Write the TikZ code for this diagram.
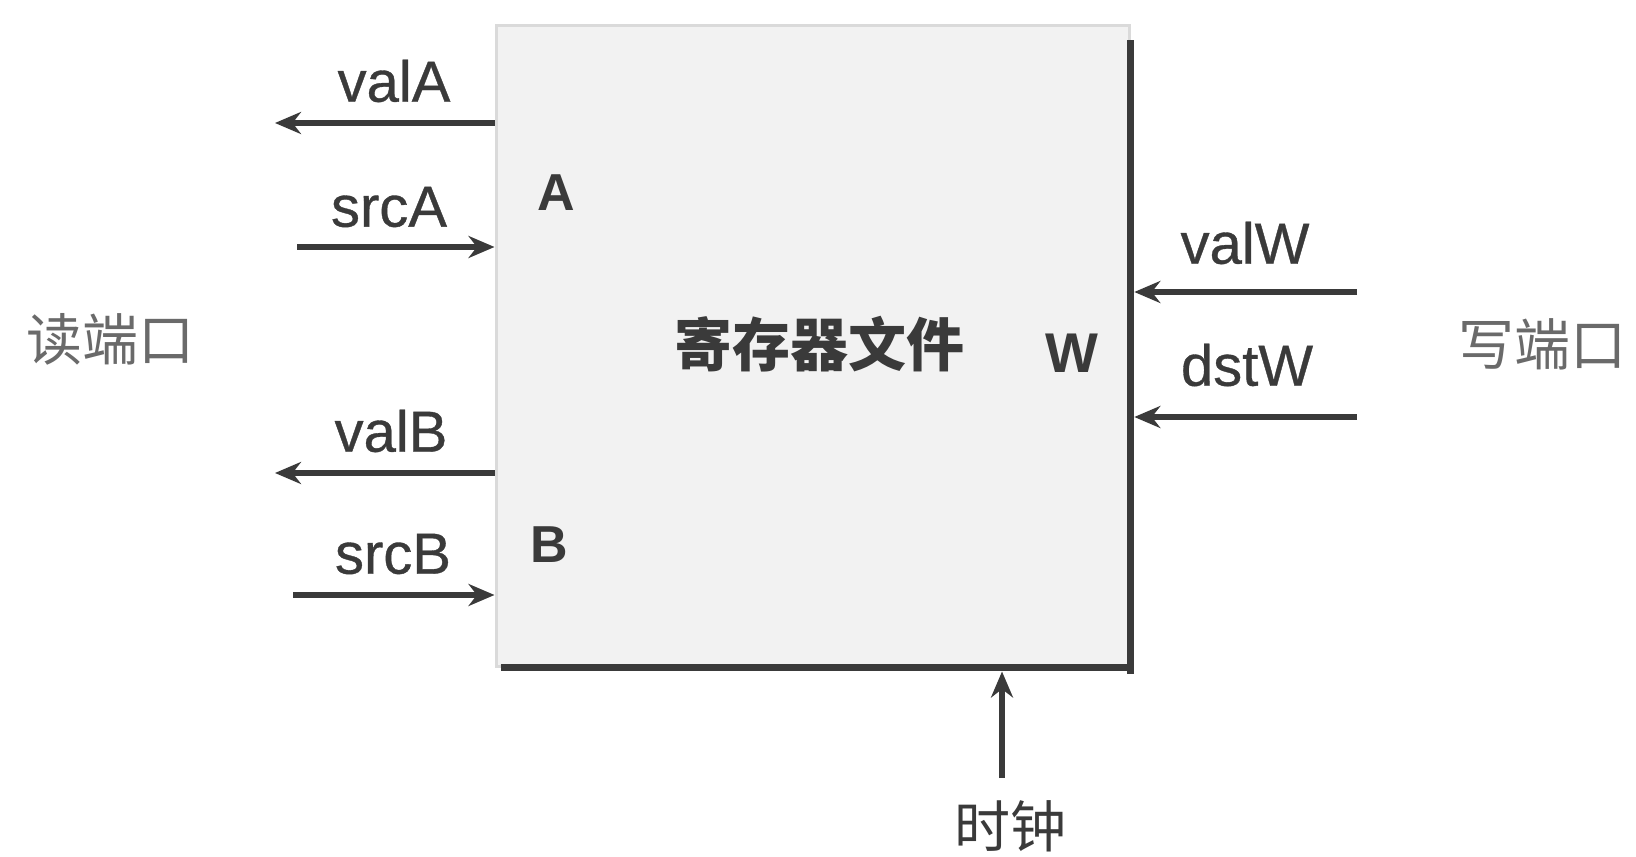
\documentclass[tikz,border=0pt]{standalone}
\usepackage{fontspec}
\setmainfont{Liberation Sans}
\newfontfamily\sigfont[FakeBold=0.6]{Liberation Sans}
\newfontfamily\cjk{Noto Sans CJK SC}
\usetikzlibrary{arrows.meta}
\definecolor{ink}{HTML}{3A3A3A}
\definecolor{boxfill}{HTML}{F2F2F2}
\definecolor{boxedge}{HTML}{DADADA}
\definecolor{port}{HTML}{6A6A6A}
\tikzset{
  arr/.style={draw=ink, line width=2.9pt, -{Stealth[length=13pt,width=11pt]}},
  sig/.style={text=ink, font=\sigfont\fontsize{29}{30}\selectfont, inner sep=0pt},
  portlbl/.style={text=ink, font=\bfseries\fontsize{26}{27}\selectfont, inner sep=0pt},
  cn/.style={text=port, font=\cjk\fontsize{28}{30}\selectfont, inner sep=0pt},
  thick edge/.style={draw=ink, line width=3.8pt},
}
\begin{document}
\begin{tikzpicture}[x=0.5pt, y=-0.5pt]
\useasboundingbox (0,0) rectangle (1636,856);
% register file box
\node[draw=boxedge, line width=1.5pt, fill=boxfill, minimum width=316.5pt, minimum height=320pt, inner sep=0pt] (rf) at (812.5,346) {};
\draw[thick edge] ([yshift=-8pt]rf.north east) -- ([yshift=-3pt]rf.south east) ;
\draw[thick edge] ([xshift=3pt]rf.south west) -- ([xshift=1.9pt]rf.south east);
% labels inside
\node[cn, text=ink, font=\cjk\bfseries\fontsize{29}{30}\selectfont] (title) at (819,344) {寄存器文件};
\node[portlbl] (pA) at (556,193) {A};
\node[portlbl] (pB) at (549,545) {B};
\node[portlbl, font=\bfseries\fontsize{28}{29}\selectfont] (pW) at (1072,353) {W};
% left side signals
\coordinate (vaE) at (275,123);
\coordinate (saS) at (297,247);
\coordinate (vbE) at (275,473);
\coordinate (sbS) at (293,595);
\draw[arr] (rf.west |- vaE) -- (vaE);
\draw[arr] (saS) -- (rf.west |- saS);
\draw[arr] (rf.west |- vbE) -- (vbE);
\draw[arr] (sbS) -- (rf.west |- sbS);
\node[sig] (valA) at (394,81) {valA};
\node[sig] (srcA) at (389,207) {srcA};
\node[sig] (valB) at (391,431) {valB};
\node[sig] (srcB) at (393,554) {srcB};
\node[cn] (rport) at (110,339) {读端口};
% right side signals
\coordinate (vwS) at (1357,292);
\coordinate (dwS) at (1357,417);
\draw[arr] (vwS) -- ([xshift=1.9pt]rf.east |- vwS);
\draw[arr] (dwS) -- ([xshift=1.9pt]rf.east |- dwS);
\node[sig] (valW) at (1245,243) {valW};
\node[sig] (dstW) at (1247,365) {dstW};
\node[cn] (wport) at (1542,344) {写端口};
% clock
\node[cn, text=ink] (clk) at (1010,826) {时钟};
\coordinate (clkS) at (1002,778);
\draw[arr] (clkS) -- ([yshift=-2pt]rf.south -| clkS);
\end{tikzpicture}
\end{document}
